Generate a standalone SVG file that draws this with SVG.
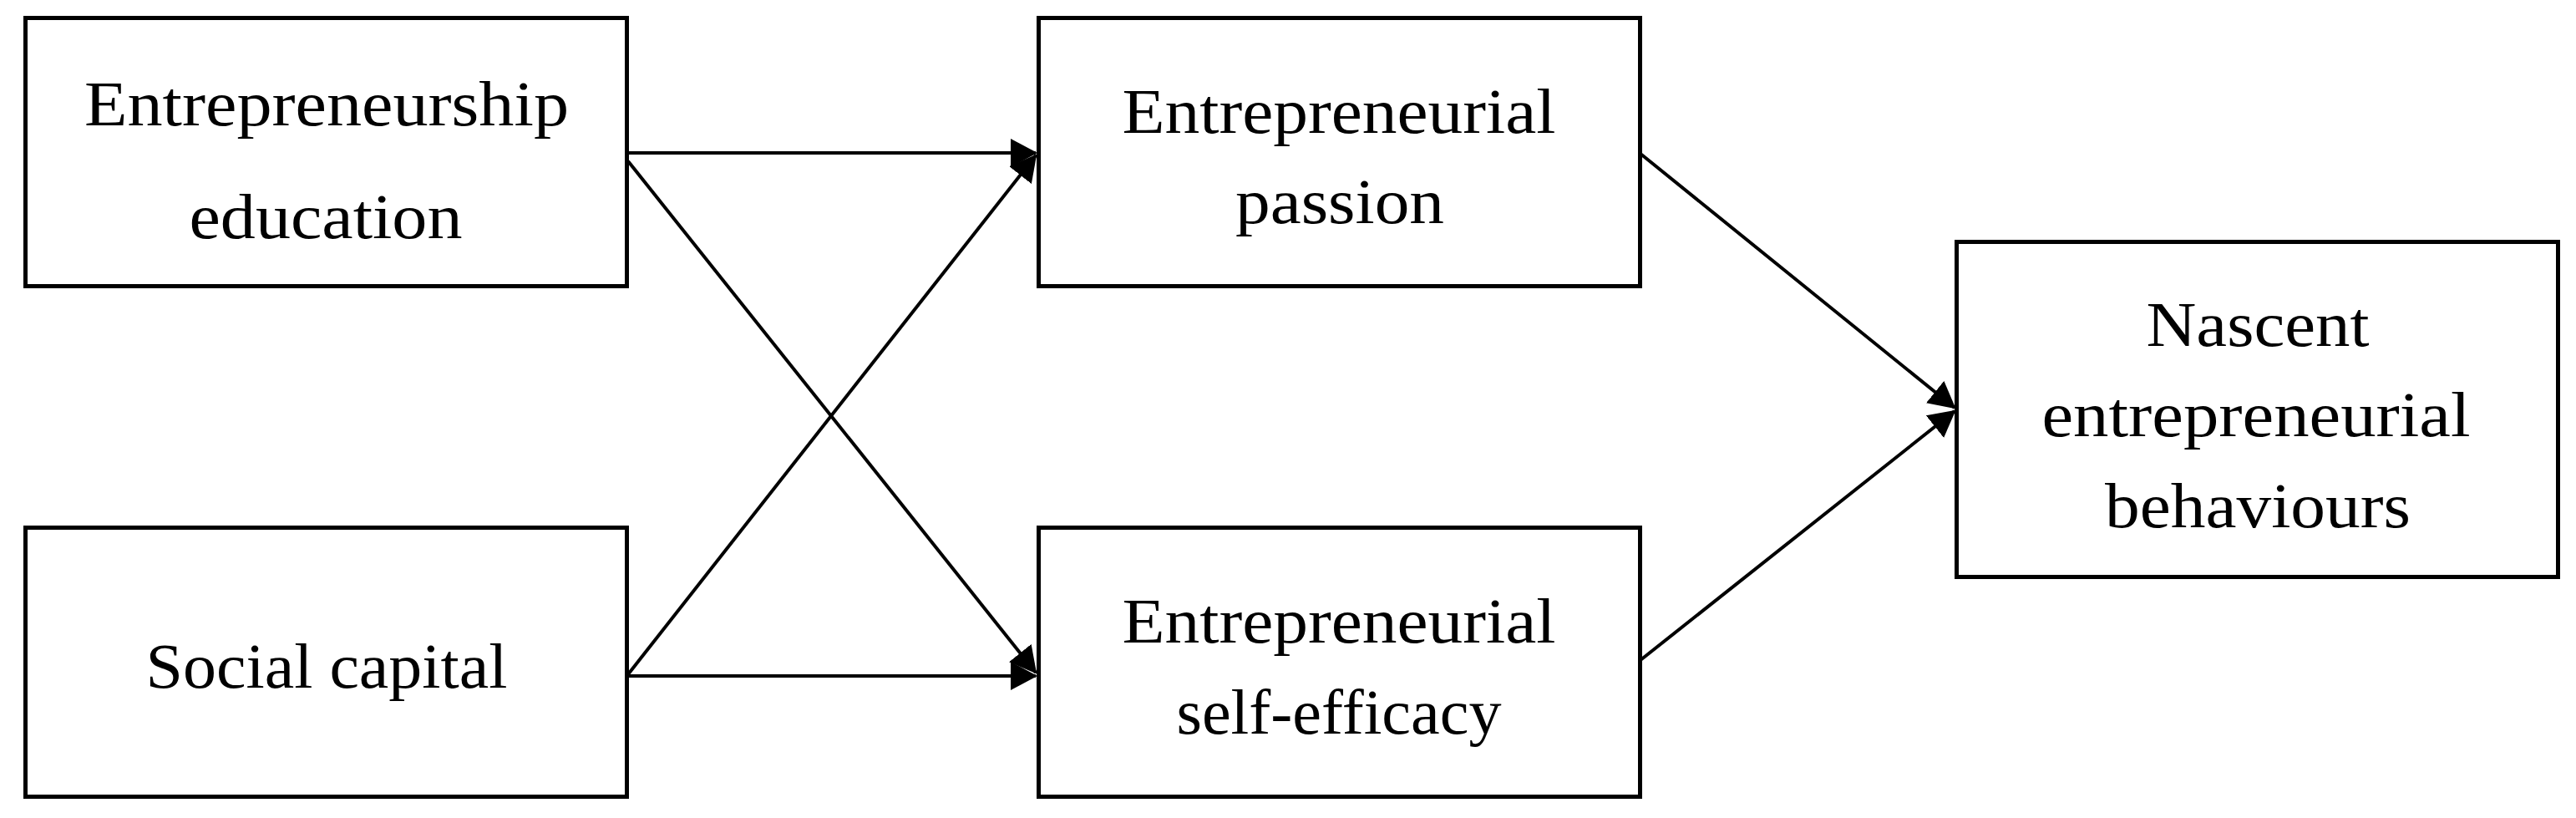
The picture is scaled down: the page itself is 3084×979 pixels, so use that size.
<svg xmlns="http://www.w3.org/2000/svg" width="3084" height="979" viewBox="0 0 3084 979">
<style>
.box{fill:#fff;stroke:#000;stroke-width:5}
.lbl{font-family:"Liberation Serif","Times New Roman",serif;font-size:77px;fill:#000;text-anchor:middle}
.conn{stroke:#000;stroke-width:4;fill:none;marker-end:url(#ah)}
</style>
<defs>
<marker id="ah" markerUnits="userSpaceOnUse" viewBox="0 0 32 34" refX="30" refY="17" markerWidth="32" markerHeight="34" orient="auto">
<path d="M0,0 L32,17 L0,34 Z" fill="#000"/>
</marker>
</defs>
<rect width="3084" height="979" fill="#fff"/>
<g id="connectors">
<line class="conn" x1="752" y1="183" x2="1240" y2="183"/>
<line class="conn" x1="752" y1="193" x2="1240" y2="805"/>
<line class="conn" x1="752" y1="807" x2="1240" y2="186"/>
<line class="conn" x1="752" y1="809" x2="1240" y2="809"/>
<line class="conn" x1="1964" y1="184" x2="2340" y2="488"/>
<line class="conn" x1="1964" y1="790" x2="2340" y2="492"/>
</g>
<g id="entrepreneurship-education">
<rect class="box" x="30.5" y="21.5" width="720" height="321"/>
<text class="lbl" x="391" y="150" textLength="580" lengthAdjust="spacingAndGlyphs">Entrepreneurship</text>
<text class="lbl" x="390" y="285" textLength="327" lengthAdjust="spacingAndGlyphs">education</text>
</g>
<g id="social-capital">
<rect class="box" x="30.5" y="631.5" width="720" height="322"/>
<text class="lbl" x="391" y="823" textLength="433" lengthAdjust="spacingAndGlyphs">Social capital</text>
</g>
<g id="entrepreneurial-passion">
<rect class="box" x="1243.5" y="21.5" width="720" height="321"/>
<text class="lbl" x="1603" y="159" textLength="519" lengthAdjust="spacingAndGlyphs">Entrepreneurial</text>
<text class="lbl" x="1604" y="267" textLength="250" lengthAdjust="spacingAndGlyphs">passion</text>
</g>
<g id="entrepreneurial-self-efficacy">
<rect class="box" x="1243.5" y="631.5" width="720" height="322"/>
<text class="lbl" x="1603" y="769" textLength="519" lengthAdjust="spacingAndGlyphs">Entrepreneurial</text>
<text class="lbl" x="1603" y="878" textLength="389" lengthAdjust="spacingAndGlyphs">self-efficacy</text>
</g>
<g id="nascent-entrepreneurial-behaviours">
<rect class="box" x="2342.5" y="289.5" width="720" height="401"/>
<text class="lbl" x="2703" y="414" textLength="267" lengthAdjust="spacingAndGlyphs">Nascent</text>
<text class="lbl" x="2701" y="522" textLength="513" lengthAdjust="spacingAndGlyphs">entrepreneurial</text>
<text class="lbl" x="2703" y="631" textLength="366" lengthAdjust="spacingAndGlyphs">behaviours</text>
</g>
</svg>
